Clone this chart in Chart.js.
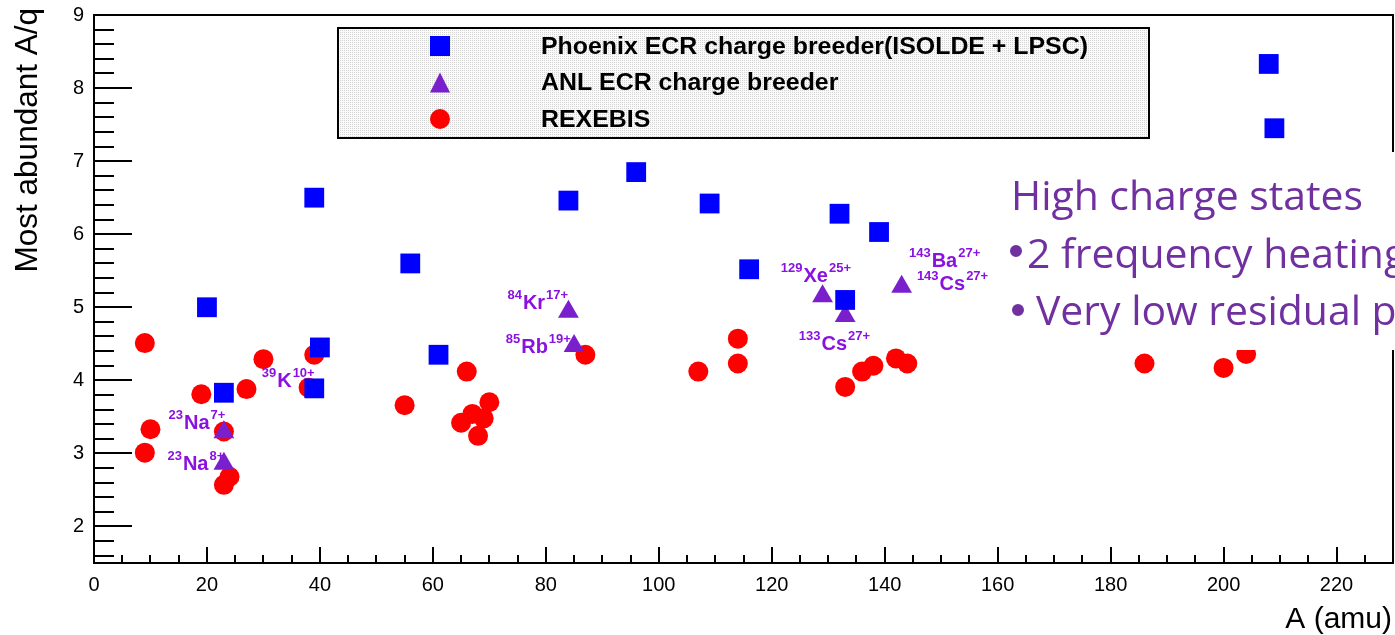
<!DOCTYPE html>
<html>
<head>
<meta charset="utf-8">
<script src="https://cdn.jsdelivr.net/npm/chart.js@4"></script>
<style>
html, body { margin: 0; padding: 0; background: #fff; }
canvas { display: block; }
</style>
</head>
<body>
<canvas id="myChart" width="1395" height="635"></canvas>
<script>
// Phoenix ECR charge breeder (ISOLDE + LPSC)
var phoenixA  = [20, 23, 39, 40, 39, 56, 61, 84, 96, 109, 116, 132, 133, 139, 208, 209];
var phoenixAq = [5.0, 3.83, 6.5, 4.45, 3.89, 5.6, 4.35, 6.46, 6.85, 6.42, 5.52, 6.28, 5.1, 6.03, 8.33, 7.45];

// ANL ECR charge breeder
var anlA  = [23, 23, 84, 85, 129, 133, 143];
var anlAq = [3.29, 2.86, 4.94, 4.47, 5.15, 4.88, 5.28];

// REXEBIS
var rexA  = [9, 10, 9, 19, 23, 24, 23, 27, 30, 39, 38, 55, 66, 65, 67, 69, 70, 68, 87, 107, 114, 114, 133, 136, 138, 142, 144, 186, 200, 204];
var rexAq = [4.51, 3.33, 3.01, 3.81, 3.3, 2.68, 2.57, 3.88, 4.29, 4.35, 3.9, 3.66, 4.12, 3.42, 3.54, 3.48, 3.7, 3.24, 4.35, 4.12, 4.57, 4.23, 3.91, 4.12, 4.2, 4.3, 4.23, 4.23, 4.17, 4.36];

var seriesNames = ['Phoenix ECR charge breeder(ISOLDE + LPSC)', 'ANL ECR charge breeder', 'REXEBIS'];

// isotope labels: mass, element, charge, anchor (A, A/q) of the label's left baseline
var isoMass   = ['23', '23', '39', '84', '85', '129', '133', '143', '143'];
var isoEl     = ['Na', 'Na', 'K', 'Kr', 'Rb', 'Xe', 'Cs', 'Ba', 'Cs'];
var isoCharge = ['7+', '8+', '10+', '17+', '19+', '25+', '27+', '27+', '27+'];
var isoX      = [13.2, 13.0, 29.7, 73.2, 72.9, 121.6, 124.8, 144.3, 145.7];
var isoY      = [3.33, 2.77, 3.91, 4.97, 4.38, 5.34, 4.42, 5.55, 5.24];

var noteTitle = 'High charge states';
var noteBullets = ['2 frequency heating', 'Very low residual pressure'];

var xTitle = 'A (amu)';
var yTitle = 'Most abundant A/q';

function pts(xs, ys) {
    return xs.map(function (x, i) { return { x: x, y: ys[i] }; });
}

var purple = '#7a1fcc';
var labelPurple = '#8a12e0';

// stipple fill like the ROOT legend
function stipple(ctx) {
    var c = document.createElement('canvas');
    c.width = 2; c.height = 2;
    var g = c.getContext('2d');
    g.fillStyle = '#fafafa'; g.fillRect(0, 0, 2, 2);
    g.fillStyle = '#d4d4d4'; g.fillRect(0, 0, 1, 1);
    return ctx.createPattern(c, 'repeat');
}

function marker(ctx, style, color, x, y) {
    ctx.fillStyle = color;
    ctx.beginPath();
    if (style === 'rect') ctx.rect(x - 10, y - 10, 20, 20);
    else if (style === 'triangle') { ctx.moveTo(x, y - 10); ctx.lineTo(x + 10, y + 10); ctx.lineTo(x - 10, y + 10); ctx.closePath(); }
    else ctx.arc(x, y, 10, 0, Math.PI * 2);
    ctx.fill();
}

var rootStyle = {
    id: 'rootStyle',
    beforeDatasetsDraw: function (chart) {
        var ctx = chart.ctx, a = chart.chartArea, xs = chart.scales.x, ys = chart.scales.y;
        ctx.save();
        ctx.strokeStyle = '#000';
        ctx.lineWidth = 2;
        ctx.strokeRect(a.left, a.top, a.right - a.left, a.bottom - a.top);
        ctx.beginPath();
        // y ticks every 0.2, long ones on integers
        for (var i = 8; i <= 45; i++) {
            var py = Math.round(ys.getPixelForValue(i / 5));
            ctx.moveTo(a.left, py);
            ctx.lineTo(a.left + (i % 5 === 0 ? 38 : 20), py);
        }
        // x ticks every 5, long ones every 20
        for (var v = 5; v < 230; v += 5) {
            var px = Math.round(xs.getPixelForValue(v));
            ctx.moveTo(px, a.bottom);
            ctx.lineTo(px, a.bottom - (v % 20 === 0 ? 16 : 8));
        }
        ctx.stroke();
        ctx.restore();
    },
    afterDraw: function (chart) {
        var ctx = chart.ctx, a = chart.chartArea, xs = chart.scales.x, ys = chart.scales.y;
        ctx.save();

        // axis titles
        ctx.fillStyle = '#000';
        ctx.font = '30px "Liberation Sans", Arial, sans-serif';
        ctx.textAlign = 'right';
        ctx.textBaseline = 'alphabetic';
        ctx.fillText(xTitle, a.right - 1, 628);
        ctx.save();
        ctx.translate(37, 8);
        ctx.rotate(-Math.PI / 2);
        ctx.font = '31.5px "Liberation Sans", Arial, sans-serif';
        ctx.fillText(yTitle, 0, 0);
        ctx.restore();

        // legend box
        var lx = 338, ly = 28, lw = 811, lh = 110;
        ctx.fillStyle = stipple(ctx);
        ctx.fillRect(lx, ly, lw, lh);
        ctx.strokeStyle = '#000';
        ctx.lineWidth = 2;
        ctx.strokeRect(lx, ly, lw, lh);
        var styles = ['rect', 'triangle', 'circle'];
        var rowY = [46, 82.5, 119];
        chart.data.datasets.forEach(function (ds, k) {
            marker(ctx, styles[k], ds.backgroundColor, 440, rowY[k]);
            ctx.fillStyle = '#000';
            ctx.font = 'bold 24px "Liberation Sans", Arial, sans-serif';
            ctx.textAlign = 'left';
            ctx.textBaseline = 'middle';
            ctx.save();
            ctx.translate(541, rowY[k] + 1);
            ctx.scale(1.037, 1);
            ctx.fillText(ds.label, 0, 0);
            ctx.restore();
        });

        // isotope labels
        ctx.fillStyle = labelPurple;
        ctx.textAlign = 'left';
        ctx.textBaseline = 'alphabetic';
        for (var i = 0; i < isoEl.length; i++) {
            var x = xs.getPixelForValue(isoX[i]);
            var y = ys.getPixelForValue(isoY[i]);
            ctx.font = 'bold 13px "Liberation Sans", Arial, sans-serif';
            ctx.fillText(isoMass[i], x, y - 10);
            x += ctx.measureText(isoMass[i]).width + 1;
            ctx.font = 'bold 20px "Liberation Sans", Arial, sans-serif';
            ctx.fillText(isoEl[i], x, y);
            x += ctx.measureText(isoEl[i]).width + 1;
            ctx.font = 'bold 13px "Liberation Sans", Arial, sans-serif';
            ctx.fillText(isoCharge[i], x, y - 10);
        }

        // pasted text box on top of the plot
        ctx.fillStyle = '#fff';
        ctx.fillRect(995, 152, 400, 198);
        ctx.fillStyle = '#7030a0';
        ctx.font = '40px "Open Sans", "Noto Sans", sans-serif';
        var sx = 352 / ctx.measureText(noteTitle).width;
        var lines = [[1011, 210, noteTitle], [1027, 268, noteBullets[0]], [1036, 325, noteBullets[1]]];
        lines.forEach(function (l) {
            ctx.save();
            ctx.translate(l[0], l[1]);
            ctx.scale(sx, 1);
            ctx.fillText(l[2], 0, 0);
            ctx.restore();
        });
        // bullets
        ctx.beginPath();
        ctx.arc(1016, 251, 6, 0, Math.PI * 2);
        ctx.moveTo(1024, 310);
        ctx.arc(1018, 310, 6, 0, Math.PI * 2);
        ctx.fill();
        ctx.restore();
    }
};

var ctx = document.getElementById('myChart').getContext('2d');

var myChart = new Chart(ctx, {
    type: 'scatter',
    data: {
        datasets: [{
            label: seriesNames[0],
            data: pts(phoenixA, phoenixAq),
            pointStyle: 'rect',
            pointRadius: 14,
            borderWidth: 0,
            backgroundColor: '#0000ff',
            borderColor: '#0000ff'
        }, {
            label: seriesNames[1],
            data: pts(anlA, anlAq),
            pointStyle: 'triangle',
            pointRadius: 12,
            borderWidth: 0,
            backgroundColor: purple,
            borderColor: purple
        }, {
            label: seriesNames[2],
            data: pts(rexA, rexAq),
            pointStyle: 'circle',
            pointRadius: 10,
            borderWidth: 0,
            backgroundColor: '#ff0000',
            borderColor: '#ff0000'
        }]
    },
    options: {
        responsive: false,
        animation: false,
        events: [],
        layout: { autoPadding: false, padding: { top: 15, right: 2, left: 0, bottom: 0 } },
        plugins: {
            legend: { display: false },
            tooltip: { enabled: false }
        },
        scales: {
            x: {
                type: 'linear',
                min: 0,
                max: 230,
                afterBuildTicks: function (s) { s.ticks = s.ticks.filter(function (t) { return t.value % 20 === 0; }); },
                afterFit: function (s) { s.height = 72; s.paddingLeft = 0; s.paddingRight = 0; },
                grid: { display: false, drawTicks: false },
                border: { display: false },
                ticks: {
                    stepSize: 20,
                    padding: 10,
                    maxRotation: 0,
                    autoSkip: false,
                    color: '#000',
                    font: { family: 'Liberation Sans', size: 20 }
                }
            },
            y: {
                min: 1.5,
                max: 9,
                afterBuildTicks: function (s) { s.ticks = s.ticks.filter(function (t) { return Number.isInteger(t.value); }); },
                afterFit: function (s) { s.width = 94; s.paddingTop = 0; s.paddingBottom = 0; },
                grid: { display: false, drawTicks: false },
                border: { display: false },
                ticks: {
                    stepSize: 1,
                    padding: 10,
                    autoSkip: false,
                    color: '#000',
                    font: { family: 'Liberation Sans', size: 20 }
                }
            }
        }
    },
    plugins: [rootStyle]
});
</script>
</body>
</html>
